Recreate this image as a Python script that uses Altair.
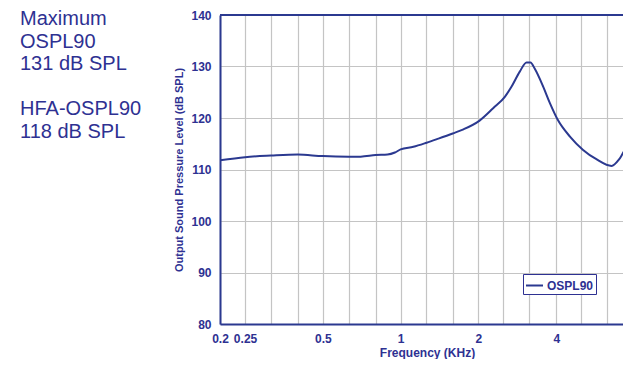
import altair as alt
import pandas as pd

# Frequency (kHz) and output SPL (dB SPL)
freq = [0.2, 0.25, 0.315, 0.4, 0.5, 0.63, 0.7, 0.8, 0.89, 0.95, 1.0, 1.12, 1.26, 1.4, 1.59,
        1.75, 2.02, 2.28, 2.53, 2.68, 2.89, 3.07, 3.18, 3.3, 3.56, 3.78, 4.07, 4.52, 5.08,
        5.72, 6.55, 7.06, 7.45, 7.78]
spl = [111.8, 112.4, 112.7, 112.9, 112.6, 112.5, 112.5, 112.8, 112.9, 113.3, 113.9, 114.4,
       115.2, 116.0, 117.0, 117.8, 119.5, 121.9, 124.1, 126.0, 129.0, 130.8, 130.8, 129.6,
       126.1, 122.9, 119.5, 116.4, 113.8, 112.0, 110.7, 112.2, 113.9, 113.5]
series = ["OSPL90"] * len(freq)

grid_x = [0.2, 0.25, 0.315, 0.4, 0.5, 0.63, 0.8, 1, 1.25, 1.6, 2, 2.5, 3.15, 4, 5, 6.3]
label_x = [0.2, 0.25, 0.5, 1, 2, 4]
y_ticks = [80, 90, 100, 110, 120, 130, 140]
x_domain = [0.2, 7.25]
y_domain = [80, 140]

note_max = ["Maximum", "OSPL90", "131 dB SPL"]
note_hfa = ["HFA-OSPL90", "118 dB SPL"]

NAVY = "#2e3192"
LINE = "#2b3990"
GRID = "#c4c4c4"

df = pd.DataFrame({"freq": freq, "spl": spl, "series": series})

label_expr = "indexof([" + ",".join(str(v) for v in label_x) + "], datum.value) >= 0 ? format(datum.value, '~g') : ''"

x_enc = alt.X(
    "freq:Q",
    scale=alt.Scale(type="log", domain=x_domain, nice=False),
    axis=alt.Axis(
        values=grid_x, labelExpr=label_expr, title="Frequency (KHz)",
        grid=True, gridColor=GRID, gridWidth=1.2, ticks=False,
        domainColor=LINE, domainWidth=2,
        labelFont="Liberation Sans", labelFontWeight="bold", labelFontSize=12,
        labelColor=NAVY, labelPadding=9, labelFlush=False, labelOverlap=False,
        titleFont="Liberation Sans", titleFontWeight="bold", titleFontSize=12,
        titleColor=NAVY, titleX=207, titleY=32, titleBaseline="alphabetic",
    ),
)
y_enc = alt.Y(
    "spl:Q",
    scale=alt.Scale(domain=y_domain, nice=False),
    axis=alt.Axis(
        values=y_ticks, title="Output Sound Pressure Level (dB SPL)",
        grid=True, gridColor=GRID, gridWidth=1.2, ticks=False,
        domainColor=LINE, domainWidth=2,
        labelFont="Liberation Sans", labelFontWeight="bold", labelFontSize=12,
        labelColor=NAVY, labelPadding=9,
        titleFont="Liberation Sans", titleFontWeight="bold", titleFontSize=11,
        titleColor=NAVY, titlePadding=6,
    ),
)

line = alt.Chart(df).mark_line(strokeWidth=2, interpolate="monotone", clip=True).encode(
    x=x_enc,
    y=y_enc,
    color=alt.Color(
        "series:N",
        scale=alt.Scale(range=[LINE]),
        legend=alt.Legend(
            title=None, orient="none", legendX=303, legendY=259,
            symbolType="stroke", symbolSize=289, symbolStrokeWidth=2,
            labelFont="Liberation Sans", labelFontWeight="bold", labelFontSize=12,
            labelColor=NAVY, labelOffset=3,
            strokeColor=NAVY, fillColor="white", padding=2,
        ),
    ),
)

top_border = alt.Chart(pd.DataFrame({"y": [y_domain[1]]})).mark_rule(
    color=LINE, strokeWidth=2
).encode(y=alt.Y("y:Q"))

text_style = dict(align="left", baseline="alphabetic", font="Liberation Sans", fontSize=20,
                  color=NAVY, lineHeight=22.5, lineBreak="\n")

notes1 = alt.Chart(pd.DataFrame({"t": ["\n".join(note_max)]})).mark_text(**text_style).encode(
    text="t:N", x=alt.value(-200), y=alt.value(10))
notes2 = alt.Chart(pd.DataFrame({"t": ["\n".join(note_hfa)]})).mark_text(**text_style).encode(
    text="t:N", x=alt.value(-200), y=alt.value(100))

chart = alt.layer(line, top_border, notes1, notes2).properties(
    width=403, height=309,
    autosize=alt.AutoSizeParams(type="none"),
    padding={"left": 212, "top": 7, "right": 0, "bottom": 35},
).configure_view(stroke=None)

chart.save("out.html", embed_options={"renderer": "svg", "actions": False})
